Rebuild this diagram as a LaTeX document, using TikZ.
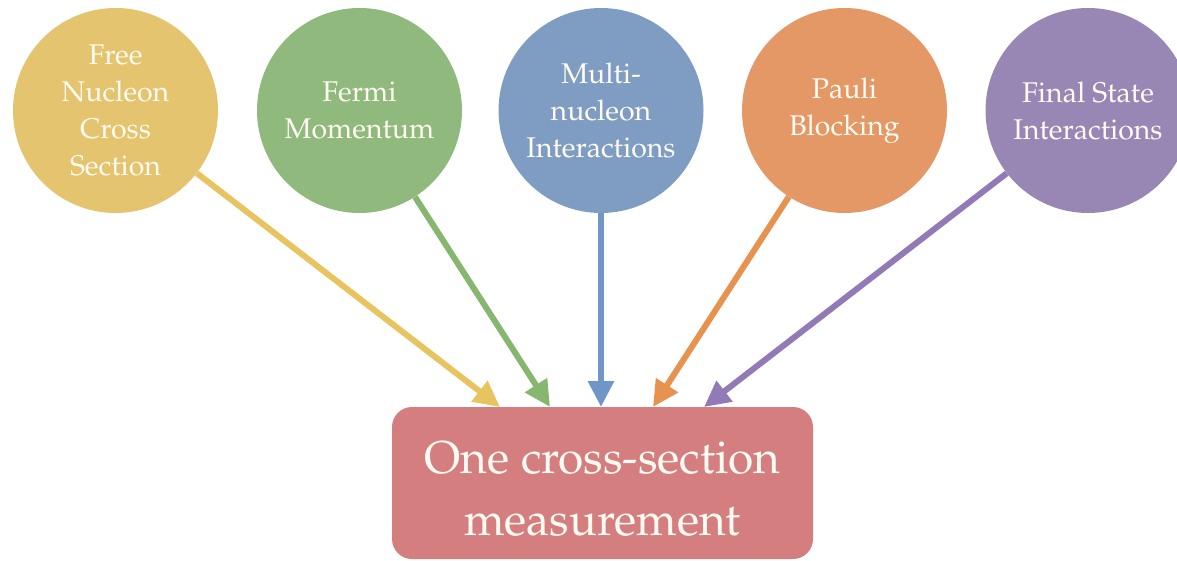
\documentclass[tikz,border=0pt]{standalone}
\usepackage[T1]{fontenc}
\usepackage{mathpazo}
\usetikzlibrary{arrows.meta}
\definecolor{cY}{RGB}{228,196,110}
\definecolor{cG}{RGB}{143,185,125}
\definecolor{cB}{RGB}{127,157,195}
\definecolor{cO}{RGB}{228,152,102}
\definecolor{cP}{RGB}{152,135,180}
\definecolor{cR}{RGB}{213,126,128}
\definecolor{aY}{RGB}{232,196,96}
\definecolor{aG}{RGB}{135,182,112}
\definecolor{aB}{RGB}{112,150,200}
\definecolor{aO}{RGB}{232,146,80}
\definecolor{aP}{RGB}{146,122,182}
\definecolor{txt}{RGB}{255,251,242}
\tikzset{
  bubble/.style={circle, minimum size=205pt, inner sep=0pt, text=txt, align=center,
    font=\fontsize{28.5}{37}\selectfont},
  result/.style={rectangle, rounded corners=20pt, minimum width=421pt, minimum height=152pt,
    text=txt, align=center, font=\fontsize{46}{62}\selectfont},
  arr/.style={line width=6pt, -{Triangle[length=26pt,width=25pt]}}
}
\begin{document}
\begin{tikzpicture}[x=1pt,y=-1pt]
\useasboundingbox (0,0) rectangle (1177,561);
\node[bubble, fill=cY] (c1) at (115.5,110.5) {Free\\Nucleon\\Cross\\Section};
\node[bubble, fill=cG] (c2) at (359.5,110.5) {Fermi\\Momentum};
\node[bubble, fill=cB] (c3) at (601,110.5) {Multi-\\nucleon\\Interactions};
\node[bubble, fill=cO] (c4) at (844.5,110.5) {Pauli\\Blocking};
\node[bubble, fill=cP] (c5) at (1088,110.5) {Final State\\Interactions};
\node[result, fill=cR] (box) at (602.5,483) {\rule{0pt}{44pt}One cross-section\\measurement};
\coordinate (t1) at (500,407);
\coordinate (t2) at (550,407);
\coordinate (t3) at (601,407);
\coordinate (t4) at (653,407);
\coordinate (t5) at (704,407);
\draw[arr, aY] (c1) -- (t1);
\draw[arr, aG] (c2) -- (t2);
\draw[arr, aB] (c3) -- (t3);
\draw[arr, aO] (c4) -- (t4);
\draw[arr, aP] (c5) -- (t5);
\end{tikzpicture}
\end{document}
